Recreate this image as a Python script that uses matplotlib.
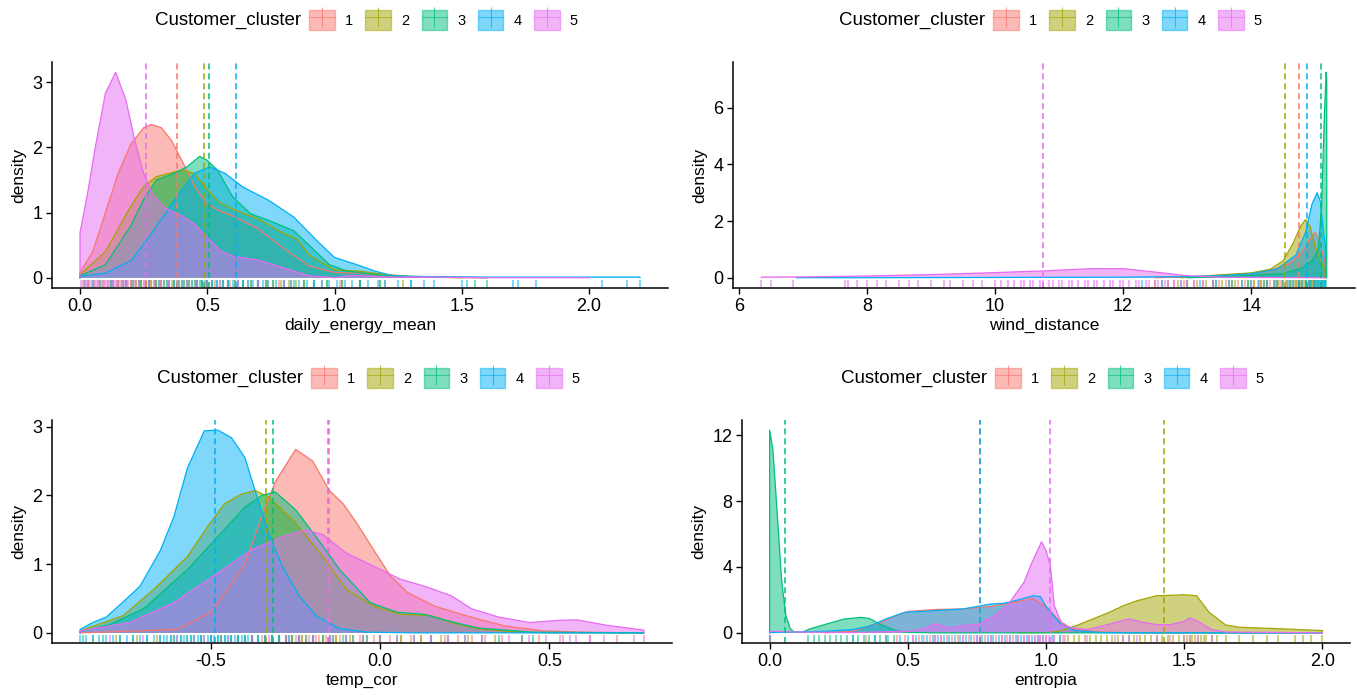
import matplotlib
matplotlib.use("Agg")
import matplotlib.pyplot as plt
from matplotlib.patches import Patch
from matplotlib.lines import Line2D
from matplotlib.legend_handler import HandlerTuple

plt.rcParams['font.family'] = ['Liberation Sans', 'DejaVu Sans']
plt.rcParams['axes.unicode_minus'] = False

W, H = 1357, 695

clusters = ['1', '2', '3', '4', '5']
colors = ['#F8766D', '#A3A500', '#00BF7D', '#00B0F6', '#E76BF3']

# ---- daily_energy_mean ----
energy_x = [
    [0.0, 0.05, 0.1, 0.15, 0.2, 0.25, 0.28, 0.32, 0.36, 0.4, 0.45, 0.5, 0.55, 0.6, 0.7, 0.8, 0.9, 1.0, 1.1, 1.2, 1.3, 1.5, 1.6],
    [0.0, 0.1, 0.2, 0.25, 0.3, 0.35, 0.4, 0.45, 0.5, 0.55, 0.6, 0.7, 0.8, 0.85, 0.9, 1.0, 1.1, 1.2, 1.3, 1.5],
    [0.0, 0.1, 0.2, 0.25, 0.3, 0.37, 0.42, 0.47, 0.5, 0.54, 0.6, 0.67, 0.74, 0.84, 0.91, 0.98, 1.05, 1.1, 1.2, 1.3, 1.5, 1.6],
    [0.0, 0.1, 0.2, 0.28, 0.37, 0.45, 0.51, 0.57, 0.64, 0.74, 0.84, 0.93, 1.0, 1.08, 1.16, 1.23, 1.3, 1.5, 1.8, 2.2],
    [0.0, 0.03, 0.06, 0.1, 0.14, 0.18, 0.215, 0.25, 0.283, 0.33, 0.36, 0.4, 0.45, 0.5, 0.55, 0.6, 0.7, 0.8, 0.9, 1.0, 1.05, 1.1, 1.2, 1.4, 1.6, 1.9, 2.0],
]
energy_y = [
    [0.08, 0.4, 1.0, 1.6, 2.05, 2.3, 2.35, 2.3, 2.1, 1.8, 1.4, 1.13, 1.02, 0.95, 0.75, 0.45, 0.18, 0.08, 0.07, 0.03, 0.01, 0.0, 0.0],
    [0.05, 0.4, 1.1, 1.4, 1.55, 1.6, 1.65, 1.6, 1.35, 1.15, 1.05, 0.9, 0.68, 0.6, 0.35, 0.12, 0.1, 0.05, 0.02, 0.0],
    [0.03, 0.2, 0.8, 1.2, 1.5, 1.6, 1.7, 1.86, 1.8, 1.65, 1.24, 0.98, 0.88, 0.72, 0.46, 0.2, 0.1, 0.08, 0.03, 0.02, 0.01, 0.0],
    [0.02, 0.07, 0.26, 0.67, 1.19, 1.6, 1.7, 1.6, 1.39, 1.19, 0.93, 0.57, 0.31, 0.21, 0.1, 0.03, 0.02, 0.01, 0.01, 0.01],
    [0.69, 1.3, 2.0, 2.83, 3.15, 2.73, 2.11, 1.6, 1.29, 1.08, 1.02, 0.95, 0.82, 0.62, 0.42, 0.33, 0.27, 0.15, 0.03, 0.0, 0.03, 0.03, 0.01, 0.01, 0.0, 0.0, 0.0],
]
energy_means = [0.38, 0.488, 0.505, 0.614, 0.258]
energy_rug = [
    [0.01, 0.03, 0.05, 0.07, 0.08, 0.1, 0.11, 0.12, 0.13, 0.14, 0.15, 0.16, 0.17, 0.18, 0.19, 0.2, 0.21, 0.22, 0.23, 0.24, 0.25, 0.26, 0.27, 0.28, 0.29, 0.3, 0.31, 0.32, 0.33, 0.35, 0.37, 0.39, 0.41, 0.43, 0.45, 0.48, 0.5, 0.53, 0.56, 0.59, 0.62, 0.66, 0.7, 0.74, 0.78, 0.83, 0.88, 0.95, 1.02, 1.1, 1.2],
    [0.03, 0.06, 0.09, 0.12, 0.15, 0.18, 0.2, 0.22, 0.24, 0.26, 0.28, 0.3, 0.32, 0.34, 0.36, 0.38, 0.4, 0.42, 0.44, 0.46, 0.48, 0.5, 0.52, 0.55, 0.58, 0.61, 0.64, 0.67, 0.7, 0.73, 0.76, 0.79, 0.82, 0.85, 0.88, 0.92, 0.97, 1.03, 1.1, 1.18, 1.27],
    [0.02, 0.08, 0.13, 0.17, 0.21, 0.24, 0.27, 0.3, 0.33, 0.35, 0.37, 0.39, 0.41, 0.43, 0.45, 0.46, 0.47, 0.48, 0.49, 0.5, 0.52, 0.54, 0.56, 0.58, 0.61, 0.64, 0.67, 0.7, 0.73, 0.76, 0.8, 0.84, 0.88, 0.92, 0.97, 1.03, 1.1, 1.18, 1.3, 1.55, 1.6],
    [0.05, 0.12, 0.18, 0.23, 0.27, 0.31, 0.34, 0.37, 0.4, 0.42, 0.44, 0.46, 0.48, 0.5, 0.52, 0.54, 0.56, 0.58, 0.6, 0.62, 0.64, 0.66, 0.68, 0.7, 0.72, 0.74, 0.77, 0.8, 0.83, 0.86, 0.89, 0.92, 0.95, 0.98, 1.01, 1.04, 1.07, 1.1, 1.13, 1.17, 1.2, 1.25, 1.3, 1.35, 1.39, 1.5, 1.52, 1.7, 1.72, 1.79, 2.05, 2.15, 2.2],
    [0.005, 0.015, 0.025, 0.035, 0.045, 0.055, 0.065, 0.075, 0.085, 0.095, 0.105, 0.115, 0.125, 0.135, 0.145, 0.155, 0.165, 0.175, 0.185, 0.2, 0.215, 0.23, 0.25, 0.27, 0.29, 0.32, 0.35, 0.38, 0.42, 0.46, 0.5, 0.55, 0.62, 0.7, 0.8],
]

# ---- wind_distance ----
wind_x = [
    [12.5, 13.0, 13.5, 14.0, 14.3, 14.6, 14.8, 14.9, 15.0, 15.05, 15.1, 15.15],
    [12.9, 13.2, 13.5, 14.0, 14.3, 14.5, 14.65, 14.78, 14.85, 14.92, 15.0, 15.08, 15.15],
    [13.0, 13.5, 14.0, 14.5, 14.8, 14.95, 15.05, 15.1, 15.14, 15.17, 15.18],
    [6.9, 8.0, 10.0, 12.0, 13.0, 13.5, 14.0, 14.4, 14.7, 14.85, 14.95, 15.03, 15.08, 15.12, 15.16],
    [6.35, 7.0, 8.0, 9.0, 10.0, 10.75, 11.5, 12.0, 12.5, 13.0, 13.5, 14.0, 15.15],
]
wind_y = [
    [0.0, 0.03, 0.08, 0.15, 0.25, 0.5, 0.9, 1.3, 1.6, 1.4, 1.0, 0.6],
    [0.0, 0.05, 0.1, 0.17, 0.3, 0.6, 1.2, 1.85, 2.05, 1.8, 1.1, 0.6, 0.3],
    [0.0, 0.03, 0.08, 0.15, 0.35, 0.6, 1.0, 2.5, 5.5, 7.25, 7.0],
    [0.0, 0.0, 0.01, 0.02, 0.04, 0.07, 0.14, 0.3, 0.8, 1.6, 2.6, 3.0, 2.7, 1.8, 1.1],
    [0.02, 0.03, 0.06, 0.11, 0.18, 0.24, 0.32, 0.32, 0.2, 0.07, 0.02, 0.01, 0.0],
]
wind_means = [14.74, 14.53, 15.09, 14.87, 10.75]
wind_rug = [
    [12.6, 12.8, 12.95, 13.1, 13.25, 13.4, 13.5, 13.6, 13.7, 13.8, 13.9, 14.0, 14.05, 14.1, 14.15, 14.2, 14.25, 14.3, 14.35, 14.4, 14.45, 14.5, 14.55, 14.6, 14.65, 14.7, 14.75, 14.8, 14.85, 14.9, 14.95, 15.0, 15.05, 15.1],
    [12.5, 12.7, 12.85, 13.0, 13.15, 13.3, 13.45, 13.55, 13.65, 13.75, 13.85, 13.95, 14.05, 14.15, 14.25, 14.35, 14.42, 14.5, 14.56, 14.62, 14.68, 14.72, 14.76, 14.8, 14.83, 14.86, 14.9, 14.93, 14.97, 15.0, 15.05, 15.1],
    [13.0, 13.4, 13.7, 13.95, 14.2, 14.4, 14.6, 14.75, 14.85, 14.92, 14.98, 15.02, 15.06, 15.09, 15.11, 15.13, 15.15, 15.17],
    [12.3, 12.6, 12.9, 13.2, 13.45, 13.65, 13.85, 14.0, 14.12, 14.25, 14.37, 14.48, 14.58, 14.66, 14.74, 14.8, 14.86, 14.9, 14.94, 14.98, 15.01, 15.04, 15.07, 15.1, 15.13, 15.15],
    [6.35, 6.5, 6.85, 7.65, 7.7, 7.85, 8.0, 8.15, 8.3, 8.5, 8.65, 8.8, 9.0, 9.2, 9.3, 9.5, 9.65, 9.8, 10.0, 10.1, 10.2, 10.3, 10.4, 10.45, 10.55, 10.6, 10.7, 10.75, 10.85, 10.9, 11.0, 11.05, 11.15, 11.2, 11.3, 11.4, 11.45, 11.55, 11.6, 11.7, 11.8, 11.85, 11.95, 12.0, 12.1, 12.2, 12.25, 12.35, 12.4, 12.5, 12.55, 12.65, 12.7, 12.8, 12.9, 13.0, 13.1, 13.25, 13.4],
]

# ---- temp_cor ----
temp_x = [
    [-0.887, -0.6, -0.5, -0.4, -0.35, -0.31, -0.25, -0.2, -0.15, -0.11, -0.07, -0.02, 0.03, 0.08, 0.16, 0.24, 0.29, 0.37, 0.48, 0.6, 0.779],
    [-0.887, -0.76, -0.67, -0.57, -0.51, -0.46, -0.41, -0.37, -0.33, -0.25, -0.17, -0.1, -0.02, 0.06, 0.15, 0.21, 0.29, 0.41, 0.5, 0.779],
    [-0.887, -0.8, -0.7, -0.57, -0.48, -0.4, -0.35, -0.31, -0.25, -0.19, -0.12, -0.03, 0.05, 0.13, 0.22, 0.29, 0.45, 0.779],
    [-0.887, -0.85, -0.81, -0.76, -0.71, -0.65, -0.61, -0.57, -0.52, -0.48, -0.44, -0.4, -0.37, -0.33, -0.29, -0.24, -0.19, -0.12, -0.04, 0.1, 0.4, 0.779],
    [-0.887, -0.74, -0.61, -0.48, -0.38, -0.29, -0.22, -0.17, -0.1, -0.02, 0.06, 0.13, 0.21, 0.27, 0.35, 0.44, 0.52, 0.58, 0.67, 0.779],
]
temp_y = [
    [0.0, 0.05, 0.3, 1.0, 1.7, 2.2, 2.67, 2.5, 2.07, 1.88, 1.6, 1.21, 0.83, 0.59, 0.39, 0.27, 0.2, 0.1, 0.03, 0.01, 0.0],
    [0.03, 0.25, 0.63, 1.11, 1.55, 1.88, 2.02, 2.07, 1.98, 1.6, 1.11, 0.63, 0.39, 0.27, 0.25, 0.15, 0.06, 0.01, 0.0, 0.0],
    [0.02, 0.12, 0.35, 0.92, 1.4, 1.83, 2.0, 2.05, 1.79, 1.4, 0.92, 0.44, 0.3, 0.27, 0.15, 0.07, 0.01, 0.0],
    [0.05, 0.15, 0.23, 0.45, 0.68, 1.2, 1.69, 2.4, 2.94, 2.95, 2.84, 2.55, 2.07, 1.45, 0.97, 0.54, 0.25, 0.06, 0.01, 0.0, 0.0, 0.0],
    [0.03, 0.15, 0.44, 0.87, 1.21, 1.4, 1.5, 1.43, 1.16, 0.97, 0.78, 0.68, 0.54, 0.35, 0.23, 0.15, 0.18, 0.19, 0.11, 0.04],
]
temp_means = [-0.155, -0.338, -0.318, -0.488, -0.153]
temp_rug = [
    [-0.55, -0.47, -0.42, -0.38, -0.35, -0.32, -0.3, -0.28, -0.27, -0.26, -0.25, -0.24, -0.23, -0.22, -0.21, -0.2, -0.19, -0.18, -0.17, -0.16, -0.15, -0.14, -0.13, -0.12, -0.1, -0.08, -0.06, -0.04, -0.02, 0.0, 0.03, 0.06, 0.09, 0.12, 0.15, 0.19, 0.23, 0.27, 0.31, 0.36, 0.42, 0.47, 0.54, 0.62, 0.7],
    [-0.85, -0.78, -0.72, -0.66, -0.61, -0.57, -0.53, -0.5, -0.47, -0.44, -0.42, -0.4, -0.38, -0.36, -0.34, -0.32, -0.3, -0.28, -0.26, -0.23, -0.2, -0.17, -0.13, -0.09, -0.05, 0.0, 0.06, 0.12, 0.18, 0.26, 0.34],
    [-0.88, -0.82, -0.77, -0.73, -0.69, -0.65, -0.62, -0.59, -0.56, -0.53, -0.5, -0.48, -0.46, -0.44, -0.42, -0.4, -0.38, -0.36, -0.34, -0.32, -0.3, -0.28, -0.26, -0.24, -0.22, -0.2, -0.17, -0.14, -0.11, -0.08, -0.04, 0.0, 0.05, 0.1, 0.15, 0.2, 0.25, 0.3, 0.35, 0.42, 0.45],
    [-0.887, -0.87, -0.85, -0.83, -0.81, -0.79, -0.77, -0.75, -0.73, -0.71, -0.69, -0.67, -0.65, -0.64, -0.63, -0.62, -0.61, -0.6, -0.59, -0.58, -0.57, -0.56, -0.55, -0.54, -0.53, -0.52, -0.51, -0.5, -0.49, -0.48, -0.47, -0.46, -0.45, -0.44, -0.43, -0.42, -0.41, -0.4, -0.39, -0.38, -0.36, -0.34, -0.32, -0.3, -0.27, -0.24, -0.2, -0.15, -0.1, -0.05],
    [-0.8, -0.7, -0.6, -0.52, -0.45, -0.38, -0.33, -0.28, -0.24, -0.2, -0.15, -0.1, -0.05, 0.0, 0.05, 0.1, 0.15, 0.2, 0.25, 0.3, 0.38, 0.44, 0.49, 0.53, 0.56, 0.58, 0.62, 0.66, 0.75, 0.78],
]

# ---- entropia ----
entropy_x = [
    [0.2, 0.3, 0.4, 0.45, 0.5, 0.6, 0.7, 0.8, 0.9, 0.95, 1.0, 1.05, 1.1, 1.2, 1.3, 2.0],
    [0.9, 1.0, 1.05, 1.11, 1.23, 1.28, 1.33, 1.4, 1.5, 1.545, 1.59, 1.65, 1.7, 1.86, 2.0],
    [0.0, 0.012, 0.028, 0.044, 0.059, 0.075, 0.09, 0.12, 0.145, 0.207, 0.27, 0.33, 0.36, 0.41, 0.456, 0.5, 0.6, 1.0, 2.0],
    [0.0, 0.1, 0.2, 0.3, 0.36, 0.42, 0.49, 0.55, 0.6, 0.7, 0.8, 0.85, 0.9, 0.953, 0.98, 1.0, 1.05, 1.1, 1.2, 1.5, 2.0],
    [0.0, 0.1, 0.3, 0.5, 0.55, 0.6, 0.65, 0.7, 0.75, 0.8, 0.83, 0.86, 0.92, 0.95, 0.984, 1.0, 1.016, 1.03, 1.06, 1.1, 1.15, 1.2, 1.3, 1.35, 1.4, 1.45, 1.5, 1.52, 1.55, 1.6, 1.65, 2.0],
]
entropy_y = [
    [0.0, 0.1, 0.6, 1.0, 1.3, 1.42, 1.45, 1.6, 1.9, 2.1, 1.6, 0.7, 0.2, 0.05, 0.0, 0.0],
    [0.0, 0.02, 0.1, 0.44, 1.25, 1.65, 1.95, 2.25, 2.31, 2.25, 1.25, 0.48, 0.34, 0.24, 0.14],
    [12.3, 11.1, 7.1, 3.06, 1.05, 0.24, 0.04, 0.05, 0.24, 0.54, 0.84, 0.94, 0.88, 0.44, 0.14, 0.03, 0.0, 0.0, 0.0],
    [0.02, 0.05, 0.1, 0.2, 0.4, 0.84, 1.25, 1.3, 1.35, 1.45, 1.75, 1.8, 2.0, 2.25, 2.2, 1.6, 0.6, 0.15, 0.02, 0.0, 0.0],
    [0.1, 0.05, 0.02, 0.1, 0.2, 0.55, 0.3, 0.45, 0.5, 0.9, 1.25, 1.65, 3.06, 4.3, 5.53, 5.0, 4.06, 1.65, 0.44, 0.3, 0.2, 0.4, 0.85, 0.65, 0.5, 0.5, 0.7, 0.9, 0.7, 0.2, 0.05, 0.0],
]
entropy_means = [0.76, 1.428, 0.056, 0.762, 1.016]
entropy_rug = [
    [0.35, 0.42, 0.46, 0.49, 0.52, 0.54, 0.56, 0.58, 0.6, 0.62, 0.64, 0.66, 0.68, 0.7, 0.72, 0.74, 0.76, 0.78, 0.8, 0.82, 0.84, 0.86, 0.88, 0.9, 0.92, 0.94, 0.96, 0.98, 1.0, 1.03, 1.07],
    [1.05, 1.08, 1.1, 1.12, 1.14, 1.16, 1.18, 1.2, 1.22, 1.24, 1.26, 1.28, 1.3, 1.32, 1.34, 1.36, 1.38, 1.4, 1.42, 1.44, 1.46, 1.48, 1.5, 1.51, 1.52, 1.53, 1.54, 1.55, 1.56, 1.57, 1.58, 1.6, 1.62, 1.65, 1.7, 1.75, 1.8, 1.84, 1.9, 1.93, 1.96, 2.0],
    [0.0, 0.002, 0.14, 0.16, 0.18, 0.2, 0.22, 0.24, 0.26, 0.28, 0.3, 0.32, 0.34, 0.36, 0.38, 0.4, 0.42, 0.45],
    [0.3, 0.38, 0.43, 0.47, 0.5, 0.53, 0.55, 0.57, 0.59, 0.61, 0.63, 0.65, 0.67, 0.69, 0.71, 0.73, 0.75, 0.77, 0.79, 0.81, 0.83, 0.85, 0.87, 0.89, 0.91, 0.93, 0.95, 0.97, 0.99, 1.02, 1.05],
    [0.0, 0.52, 0.6, 0.62, 0.7, 0.75, 0.8, 0.84, 0.87, 0.9, 0.92, 0.94, 0.96, 0.97, 0.98, 0.99, 1.0, 1.01, 1.03, 1.06, 1.15, 1.25, 1.28, 1.3, 1.33, 1.4, 1.45, 1.5, 1.52, 1.55, 1.6],
]


def fx(px):
    return px / W


def fy(py):
    return 1 - py / H


def draw_panel(fig, rect, legend_y, xs, ys, means, rugs, xlabel, xticks, yticks, fmt):
    left, top, right, bottom = rect
    ax = fig.add_axes([fx(left), fy(bottom), fx(right - left), (bottom - top) / H])

    for x, y, c in zip(xs, ys, colors):
        px = [x[0]] + x + [x[-1]]
        py = [0] + y + [0]
        ax.fill(px, py, facecolor=c, alpha=0.5, edgecolor='none')
        ax.plot(px, py, color=c, lw=0.9)

    for m, c in zip(means, colors):
        ax.axvline(m, color=c, lw=1.1, ls=(0, (4, 2.5)))

    # rug, 3% of the panel height
    for r, c in zip(rugs, colors):
        ax.vlines(r, 0.003, 0.035, colors=c, lw=1.5, alpha=0.5,
                  transform=ax.get_xaxis_transform())

    xmin = min(min(x) for x in xs)
    xmax = max(max(x) for x in xs)
    ymax = max(max(y) for y in ys)
    ax.set_xlim(xmin - 0.05 * (xmax - xmin), xmax + 0.05 * (xmax - xmin))
    ax.set_ylim(-0.05 * ymax, 1.05 * ymax)

    ax.set_xticks(xticks)
    ax.set_xticklabels([fmt.format(t) for t in xticks])
    ax.set_yticks(yticks)
    ax.set_yticklabels([str(t) for t in yticks])
    for s in ['top', 'right']:
        ax.spines[s].set_visible(False)
    for s in ['left', 'bottom']:
        ax.spines[s].set_linewidth(1.1)
    ax.tick_params(direction='out', length=4, width=1.0, labelsize=13, colors='black', pad=3)
    ax.set_xlabel(xlabel, fontsize=12.5, labelpad=2)
    ax.set_ylabel('density', fontsize=12.5, labelpad=4)

    handles = []
    for c in colors:
        handles.append((Patch(facecolor=c, alpha=0.5, edgecolor=c, lw=1.0),
                        Line2D([], [], color=c, lw=0.8, alpha=0.6),
                        Line2D([], [], color=c, marker='|', ls='none', markersize=14,
                               markeredgewidth=0.8, alpha=0.7)))
    center = (left + right) / 2
    ax.legend(handles, clusters, loc='center left',
              bbox_to_anchor=(fx(center - 51), fy(legend_y)), bbox_transform=fig.transFigure,
              ncol=5, frameon=False, borderpad=0, borderaxespad=0,
              handlelength=1.75, handleheight=1.75, handletextpad=0.7, columnspacing=0.85,
              fontsize=10.5, handler_map={tuple: HandlerTuple(ndivide=1)})
    fig.text(fx(center - 59), fy(legend_y), 'Customer_cluster', ha='right', va='center', fontsize=13.5)
    return ax


fig = plt.figure(figsize=(W / 100, H / 100), dpi=100)

draw_panel(fig, (52, 62, 668, 288), 20, energy_x, energy_y, energy_means, energy_rug,
           'daily_energy_mean', [0.0, 0.5, 1.0, 1.5, 2.0], [0, 1, 2, 3], '{:.1f}')
draw_panel(fig, (733, 62, 1355, 288), 20, wind_x, wind_y, wind_means, wind_rug,
           'wind_distance', [6, 8, 10, 12, 14], [0, 2, 4, 6], '{:d}')
draw_panel(fig, (52, 420, 672, 643), 378, temp_x, temp_y, temp_means, temp_rug,
           'temp_cor', [-0.5, 0.0, 0.5], [0, 1, 2, 3], '{:.1f}')
draw_panel(fig, (742, 420, 1350, 643), 378, entropy_x, entropy_y, entropy_means, entropy_rug,
           'entropia', [0.0, 0.5, 1.0, 1.5, 2.0], [0, 4, 8, 12], '{:.1f}')

fig.savefig('out.png', dpi=100)
